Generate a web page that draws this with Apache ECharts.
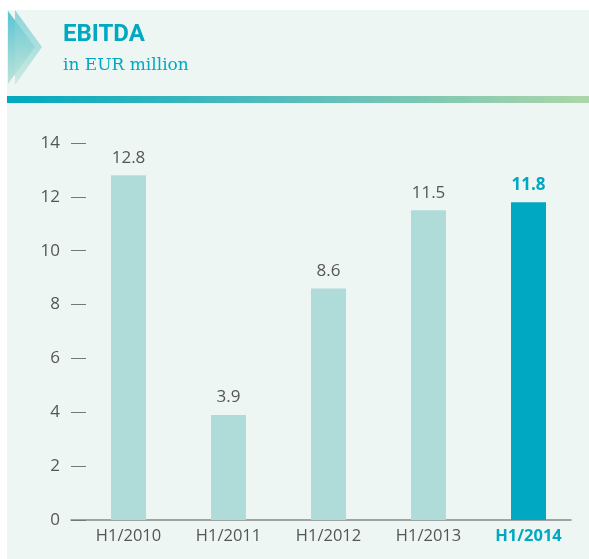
<!DOCTYPE html>
<html>
<head>
<meta charset="utf-8">
<script src="https://cdn.jsdelivr.net/npm/echarts@6/dist/echarts.min.js"></script>
<style>
  html, body { margin: 0; padding: 0; background: #fff; }
  #chart { width: 589px; height: 559px; }
</style>
</head>
<body>
<div id="chart"></div>
<script>
// data
var categories = ['H1/2010', 'H1/2011', 'H1/2012', 'H1/2013', 'H1/2014'];
var ebitda = [12.8, 3.9, 8.6, 11.5, 11.8];
var highlightIndex = 4;

var teal = '#00a9c1';
var pale = '#afdcd9';
var grey = '#555';
var font = '"Open Sans", sans-serif';

var chart = echarts.init(document.getElementById('chart'));

var barData = ebitda.map(function (v, i) {
    var hi = i === highlightIndex;
    return {
        value: v,
        itemStyle: { color: hi ? teal : pale },
        label: hi ? { color: teal, fontWeight: 'bold' } : {}
    };
});

chart.setOption({
    backgroundColor: '#fff',
    animation: false,
    graphic: [
        { type: 'rect', shape: { x: 7, y: 10, width: 582, height: 549 }, style: { fill: '#eef6f3' }, z: -10 },
        {
            type: 'rect', shape: { x: 7, y: 96, width: 582, height: 7 },
            style: {
                fill: new echarts.graphic.LinearGradient(0, 0, 1, 0, [
                    { offset: 0, color: '#00a9bf' },
                    { offset: 0.5, color: '#5bbdbb' },
                    { offset: 1, color: '#acd6a9' }
                ])
            }
        },
        {
            type: 'polygon', shape: { points: [[8, 11], [35, 47], [8, 84]] },
            style: {
                fill: new echarts.graphic.LinearGradient(0, 0, 0, 1, [
                    { offset: 0, color: '#48c0cf' },
                    { offset: 1, color: '#b8e0d6' }
                ]), opacity: 0.9
            }
        },
        {
            type: 'polygon', shape: { points: [[15, 10], [42, 47], [15, 85]] },
            style: {
                fill: new echarts.graphic.LinearGradient(0, 0, 0, 1, [
                    { offset: 0, color: '#6ccad3' },
                    { offset: 1, color: '#c4e6dc' }
                ]), opacity: 0.75
            }
        },
        {
            type: 'text', left: 63, top: 23,
            style: { text: 'EBITDA', fill: teal, font: 'bold 24px "Liberation Sans Narrow", Roboto, sans-serif' }
        },
        {
            type: 'text', left: 63, top: 57,
            style: { text: 'in EUR million', fill: teal, font: '17px "DejaVu Serif", serif' }
        }
    ],
    grid: [
        { left: 71, top: 143, width: 500, height: 377 },
        { left: 78.5, top: 143, width: 500, height: 377 }
    ],
    xAxis: [
        {
            type: 'category', gridIndex: 0, data: categories,
            axisLine: { show: true, lineStyle: { color: '#888', width: 1.5 } },
            axisTick: { show: false }, axisLabel: { show: false }
        },
        {
            type: 'category', gridIndex: 1, data: categories,
            axisLine: { show: false }, axisTick: { show: false },
            axisLabel: {
                interval: 0, hideOverlap: false,
                margin: 8, fontSize: 16.5, fontFamily: font,
                formatter: function (v, i) { return i === highlightIndex ? '{hi|' + v + '}' : v; },
                color: grey,
                rich: { hi: { color: teal, fontWeight: 'bold', fontSize: 16.5, fontFamily: font } }
            }
        }
    ],
    yAxis: [
        {
            type: 'value', gridIndex: 0, min: 0, max: 14, interval: 2,
            axisLine: { show: false },
            axisTick: { show: true, inside: true, length: 15, lineStyle: { color: '#777' } },
            splitLine: { show: false },
            axisLabel: { margin: 11, fontSize: 17, color: grey, fontFamily: font }
        },
        {
            type: 'value', gridIndex: 1, min: 0, max: 14, interval: 2, show: false,
            splitLine: { show: false }
        }
    ],
    series: [
        {
            type: 'bar', xAxisIndex: 1, yAxisIndex: 1,
            data: barData, barWidth: 35,
            label: {
                show: true, position: 'top', distance: 9,
                fontSize: 17, color: grey, fontFamily: font,
                formatter: function (p) { return p.value.toFixed(1); }
            }
        }
    ]
});
</script>
</body>
</html>
